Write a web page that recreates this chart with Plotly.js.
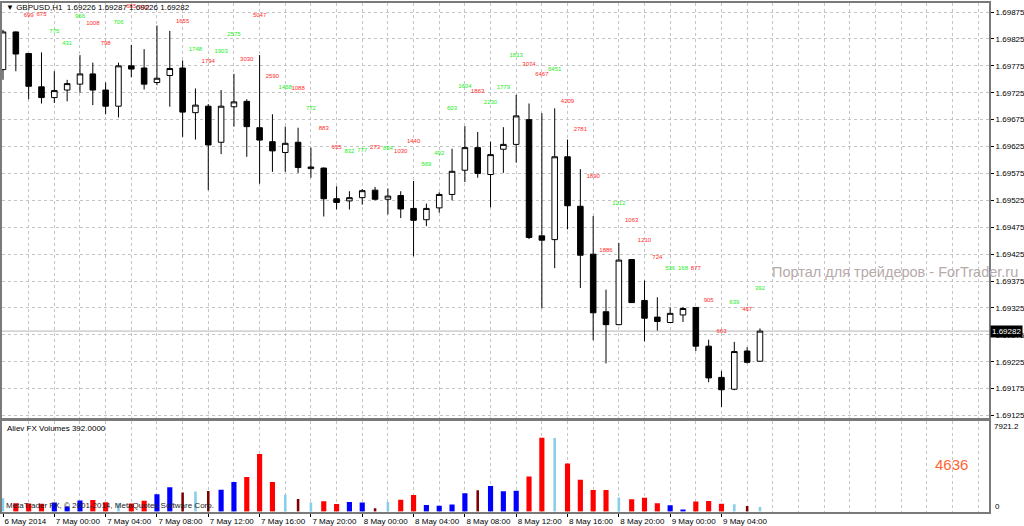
<!DOCTYPE html>
<html>
<head>
<meta charset="utf-8">
<script src="https://cdn.plot.ly/plotly-3.0.1.min.js"></script>
<style>
html,body{margin:0;padding:0;background:#fff;}
#chart{width:1024px;height:526px;}
</style>
</head>
<body>
<div id="chart"></div>
<script>
// ---- data ----
const symbol = "GBPUSD,H1";
const timeLabels = ["6 May 2014","7 May 00:00","7 May 04:00","7 May 08:00","7 May 12:00","7 May 16:00","7 May 20:00","8 May 00:00","8 May 04:00","8 May 08:00","8 May 12:00","8 May 16:00","8 May 20:00","9 May 00:00","9 May 04:00"];
const open  = [1.69768,1.69838,1.69798,1.69736,1.69716,1.69730,1.69741,1.69760,1.69730,1.69700,
               1.69775,1.69771,1.69744,1.69757,1.69771,1.69688,1.69700,1.69633,1.69699,1.69709,
               1.69660,1.69634,1.69614,1.69633,1.69584,1.69585,1.69528,1.69524,1.69530,1.69544,
               1.69527,1.69534,1.69510,1.69489,1.69511,1.69536,1.69581,1.69623,1.69573,1.69620,
               1.69629,1.69675,1.69459,1.69452,1.69606,1.69514,1.69425,1.69318,1.69294,1.69415,
               1.69339,1.69308,1.69298,1.69312,1.69326,1.69254,1.69196,1.69174,1.69245,1.69226];
const high  = [1.69842,1.69839,1.69798,1.69800,1.69765,1.69749,1.69795,1.69781,1.69744,1.69781,
               1.69814,1.69806,1.69850,1.69840,1.69785,1.69733,1.69704,1.69730,1.69760,1.69713,
               1.69795,1.69685,1.69662,1.69660,1.69623,1.69586,1.69551,1.69542,1.69546,1.69550,
               1.69547,1.69542,1.69561,1.69519,1.69540,1.69621,1.69663,1.69652,1.69634,1.69661,
               1.69721,1.69705,1.69687,1.69696,1.69638,1.69583,1.69496,1.69359,1.69446,1.69416,
               1.69376,1.69345,1.69326,1.69327,1.69326,1.69266,1.69208,1.69262,1.69252,1.69287];
const low   = [1.69749,1.69765,1.69713,1.69705,1.69706,1.69709,1.69725,1.69702,1.69685,1.69679,
               1.69754,1.69731,1.69739,1.69699,1.69643,1.69638,1.69544,1.69611,1.69662,1.69606,
               1.69556,1.69578,1.69578,1.69576,1.69567,1.69495,1.69508,1.69508,1.69517,1.69525,
               1.69499,1.69492,1.69421,1.69477,1.69502,1.69525,1.69559,1.69567,1.69512,1.69576,
               1.69595,1.69453,1.69324,1.69399,1.69471,1.69362,1.69265,1.69222,1.69293,1.69335,
               1.69263,1.69283,1.69298,1.69299,1.69245,1.69187,1.69141,1.69172,1.69222,1.69226];
const close = [1.69838,1.69797,1.69737,1.69716,1.69729,1.69742,1.69760,1.69730,1.69700,1.69775,
               1.69769,1.69741,1.69752,1.69770,1.69689,1.69702,1.69628,1.69700,1.69708,1.69662,
               1.69637,1.69617,1.69631,1.69586,1.69587,1.69528,1.69521,1.69530,1.69543,1.69527,
               1.69533,1.69509,1.69488,1.69510,1.69536,1.69579,1.69623,1.69575,1.69610,1.69629,
               1.69682,1.69456,1.69451,1.69606,1.69515,1.69423,1.69316,1.69294,1.69414,1.69335,
               1.69306,1.69300,1.69315,1.69324,1.69254,1.69195,1.69173,1.69244,1.69224,1.69282];
const volumes = [1150,710,699,675,775,431,966,1008,798,706,
                 685,930,1500,2120,1655,1748,1794,1903,2575,3030,
                 5047,2590,1458,1088,772,883,655,832,777,273,
                 834,1030,1440,569,492,603,1604,1863,2230,1779,
                 1813,3074,6467,6451,4209,2781,1890,1886,1212,1063,
                 1210,724,536,168,877,905,663,639,467,392];
// 'R' red, 'B' blue, 'L' light blue, 'D' dark red
const volType = ["L","R","R","R","B","B","B","R","R","L",
                 "R","R","B","B","D","L","D","B","B","R",
                 "R","R","L","D","L","R","R","B","B","D",
                 "L","R","R","B","B","B","B","D","B","B",
                 "B","R","R","L","R","R","R","R","L","R",
                 "R","R","B","B","R","R","R","L","D","L"];
// price level at which each volume number is printed on the chart (null = not visible)
const labelLevel = [null,null,1.69869,1.69871,1.69838,1.69817,1.69866,1.69853,1.69816,1.69855,
                    1.69886,1.69884,null,null,1.69858,1.69806,1.69784,1.69801,1.69834,1.69786,
                    1.69868,1.69756,1.69734,1.69733,1.69695,1.69659,1.69624,1.69615,1.69617,1.69624,
                    1.69621,1.69615,1.69634,1.69592,1.69612,1.69696,1.69737,1.69727,1.69706,1.69734,
                    1.69794,1.69778,1.69759,1.69769,1.69709,1.69656,1.69570,1.69431,1.69520,1.69488,
                    1.69450,1.69419,1.69399,1.69399,1.69399,1.69339,1.69281,1.69335,1.69322,1.69361];
const volMax = 7921.2;
const extraValue = "4636";
const watermark = "Портал для трейдеров - ForTrader.ru";
const copyright = "MetaTrader FX, © 2001-2014, MetaQuotes Software Corp.";
const indicatorName = "Aliev FX Volumes";

// ---- geometry helpers ----
const L = 2, R = 35, T = 3, B = 14, W = 1024, H = 526;
const PW = W - L - R, PH = H - T - B;
const px2x = px => (px - L) / PW;
const py2y = py => (H - B - py) / PH;

const idx = open.map((_, i) => i);
const last = open.length - 1;
const volColorMap = {R: "#ff0000", B: "#0000ff", L: "#87ceeb", D: "#800000"};
const volWidthMap = {R: 0.4, B: 0.4, L: 0.2, D: 0.2};
const gridCol = "#c4c4c4";
const frameCol = "#7a7a7a";
const fnt = "Arial, Liberation Sans, sans-serif";

const traces = [
  {
    type: "candlestick", x: idx, open: open, high: high, low: low, close: close,
    xaxis: "x", yaxis: "y",
    increasing: {line: {color: "#000", width: 1}, fillcolor: "#ffffff"},
    decreasing: {line: {color: "#000", width: 1}, fillcolor: "#000000"},
    whiskerwidth: 0, hoverinfo: "skip", showlegend: false
  },
  {
    type: "scatter", mode: "text", x: idx, y: labelLevel,
    text: volumes.map(String), xaxis: "x", yaxis: "y",
    textposition: "middle center", cliponaxis: true,
    textfont: {family: fnt, size: 6, color: close.map((c, i) => c >= open[i] ? "#22ee22" : "#ff2a2a")},
    hoverinfo: "skip", showlegend: false
  },
  {
    type: "bar", x: idx, y: volumes, xaxis: "x2", yaxis: "y2",
    marker: {color: volType.map(t => volColorMap[t]), line: {width: 0}},
    width: volType.map(t => volWidthMap[t]),
    hoverinfo: "skip", showlegend: false
  }
];

const xr = [-1 / 12.83, -1 / 12.83 + PW / 12.83];
const tickIdx = timeLabels.map((_, k) => k * 4);

const layout = {
  width: W, height: H,
  margin: {l: L, r: R, t: T, b: B, pad: 0},
  paper_bgcolor: "#ffffff", plot_bgcolor: "#ffffff",
  showlegend: false,
  boxgap: 0.38,
  font: {family: fnt, size: 8, color: "#000"},
  xaxis: {
    domain: [0, 1], anchor: "y", range: xr, rangeslider: {visible: false},
    tickmode: "linear", tick0: 0, dtick: 2, showticklabels: false, ticks: "",
    showgrid: true, gridcolor: gridCol, griddash: "3px,3px", gridwidth: 1,
    showline: true, linecolor: frameCol, linewidth: 2, mirror: true, zeroline: false
  },
  yaxis: {
    domain: [py2y(418), 1], anchor: "x", side: "right",
    range: [1.691205, 1.698918],
    tickmode: "linear", tick0: 1.69125, dtick: 0.0005, tickformat: ".5f",
    ticks: "outside", ticklen: 3, tickcolor: "#000", tickfont: {size: 8, family: fnt, color: "#000"},
    showgrid: true, gridcolor: gridCol, griddash: "3px,3px", gridwidth: 1,
    showline: true, linecolor: frameCol, linewidth: 2, mirror: true, zeroline: false
  },
  xaxis2: {
    domain: [0, 1], anchor: "y2", range: xr, matches: "x",
    tickmode: "array", tickvals: tickIdx, ticktext: timeLabels,
    tickangle: 0, automargin: false,
    ticklabelposition: "outside right", ticks: "outside", ticklen: 3, tickcolor: "#000",
    tickfont: {size: 8, family: fnt, color: "#000"},
    showgrid: true, gridcolor: gridCol, griddash: "3px,3px", gridwidth: 1,
    minor: {tick0: 0, dtick: 2, showgrid: true, gridcolor: gridCol, griddash: "3px,3px", ticks: ""},
    showline: true, linecolor: frameCol, linewidth: 2, mirror: true, zeroline: false
  },
  yaxis2: {
    domain: [0, py2y(421.3)], anchor: "x2", side: "right",
    range: [-53, volMax], showticklabels: false, ticks: "", showgrid: false,
    showline: true, linecolor: frameCol, linewidth: 2, mirror: true, zeroline: false
  },
  shapes: [
    {type: "line", xref: "paper", x0: 0, x1: 1, yref: "y", y0: close[last], y1: close[last],
     line: {color: "#b4b4b4", width: 1}, layer: "below"}
  ],
  annotations: [
    {xref: "paper", yref: "paper", x: px2x(4), y: py2y(8), xanchor: "left", yanchor: "middle", showarrow: false,
     text: "▼ " + symbol + "  " + [open[last], high[last], low[last], close[last]].map(v => v.toFixed(5)).join(" "),
     font: {size: 8, family: fnt, color: "#000"}},
    {xref: "paper", yref: "paper", x: px2x(5), y: py2y(428), xanchor: "left", yanchor: "middle", showarrow: false,
     text: indicatorName + " " + volumes[last].toFixed(4), font: {size: 8, family: fnt, color: "#000"}},
    {xref: "paper", yref: "paper", x: px2x(4), y: py2y(505.5), xanchor: "left", yanchor: "middle", showarrow: false,
     text: copyright, font: {size: 8, family: fnt, color: "#222"}},
    {xref: "paper", yref: "paper", x: px2x(770), y: py2y(271.5), xanchor: "left", yanchor: "middle", showarrow: false,
     text: watermark, font: {size: 14.5, family: fnt, color: "#b7aaaa"}},
    {xref: "paper", yref: "paper", x: px2x(951), y: py2y(464), xanchor: "center", yanchor: "middle", showarrow: false,
     text: extraValue, font: {size: 15, family: fnt, color: "#ff6633"}},
    {xref: "paper", yref: "paper", x: px2x(992), y: py2y(426), xanchor: "left", yanchor: "middle", showarrow: false,
     text: String(volMax), font: {size: 8, family: fnt, color: "#000"}},
    {xref: "paper", yref: "paper", x: px2x(993), y: py2y(506), xanchor: "left", yanchor: "middle", showarrow: false,
     text: "0", font: {size: 8, family: fnt, color: "#000"}},
    {xref: "paper", yref: "y", x: px2x(990), y: close[last], xanchor: "left", yanchor: "middle", showarrow: false,
     text: close[last].toFixed(5), bgcolor: "#000", borderpad: 1,
     font: {size: 8, family: fnt, color: "#fff"}}
  ]
};

Plotly.newPlot("chart", traces, layout, {staticPlot: true, displayModeBar: false});
</script>
</body>
</html>
